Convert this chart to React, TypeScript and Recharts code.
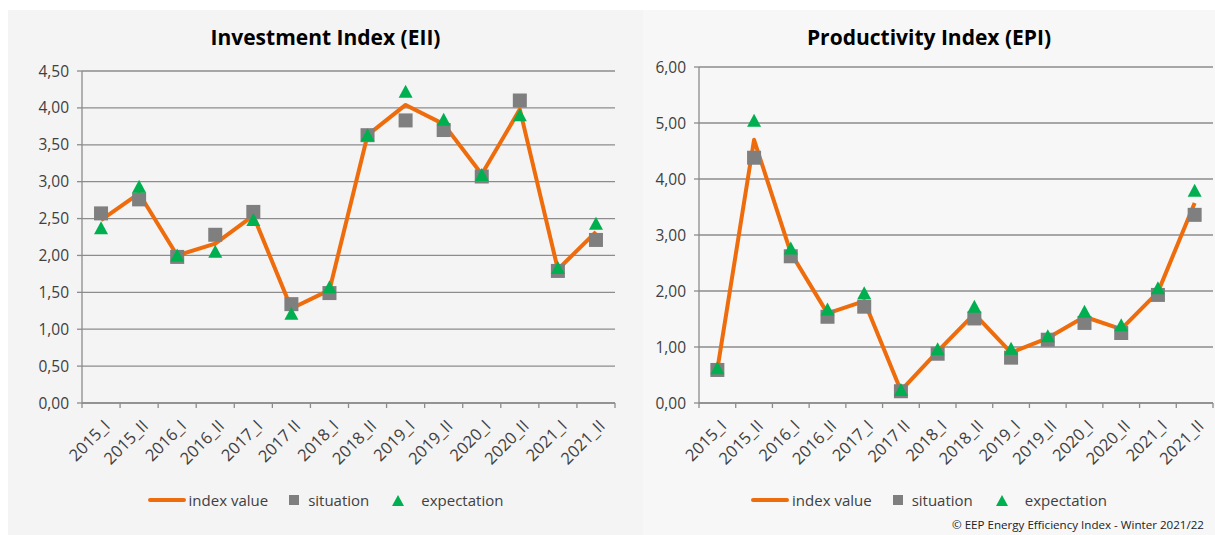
import { LineChart, Line, XAxis, YAxis, CartesianGrid } from 'recharts';

const categories = ['2015_I', '2015_II', '2016_I', '2016_II', '2017_I', '2017 II', '2018_I', '2018_II', '2019_I', '2019_II', '2020_I', '2020_II', '2021_I', '2021_II'];

// Investment Index (EII)
const eiiIndex = [2.48, 2.84, 2.0, 2.16, 2.54, 1.28, 1.53, 3.63, 4.04, 3.78, 3.1, 3.98, 1.81, 2.32];
const eiiSituation = [2.57, 2.76, 1.98, 2.28, 2.59, 1.34, 1.49, 3.63, 3.83, 3.7, 3.07, 4.1, 1.79, 2.21];
const eiiExpectation = [2.37, 2.93, 2.0, 2.05, 2.48, 1.21, 1.57, 3.63, 4.22, 3.84, 3.09, 3.9, 1.83, 2.43];
const eiiTicks = [0, 0.5, 1, 1.5, 2, 2.5, 3, 3.5, 4, 4.5];

// Productivity Index (EPI)
const epiIndex = [0.6, 4.7, 2.68, 1.6, 1.82, 0.22, 0.92, 1.59, 0.9, 1.16, 1.54, 1.32, 1.98, 3.57];
const epiSituation = [0.59, 4.38, 2.62, 1.54, 1.72, 0.21, 0.88, 1.51, 0.81, 1.13, 1.43, 1.25, 1.93, 3.36];
const epiExpectation = [0.62, 5.04, 2.76, 1.67, 1.96, 0.23, 0.96, 1.72, 0.97, 1.19, 1.63, 1.39, 2.05, 3.79];
const epiTicks = [0, 1, 2, 3, 4, 5, 6];

const ORANGE = '#ee6c0c';
const GREY = '#7f7f7f';
const GREEN = '#00b050';
const GRID = '#8c8c8c';
const FONT = '"Open Sans", "Noto Sans", sans-serif';

const fmt = (v: number) => v.toFixed(2).replace('.', ',');

function Square(props: any) {
  const { cx, cy } = props;
  if (cx == null || cy == null) return <g />;
  return <rect x={cx - 7} y={cy - 7} width={14} height={14} fill={GREY} />;
}

function Triangle(props: any) {
  const { cx, cy } = props;
  if (cx == null || cy == null) return <g />;
  return <polygon points={`${cx},${cy - 7} ${cx + 7},${cy + 6} ${cx - 7},${cy + 6}`} fill={GREEN} />;
}

function makeTick(band: number) {
  return function CategoryTick(props: any) {
    const { x, y, payload, index } = props;
    const ax = x + 6;
    const ay = y + 20;
    return (
      <g>
        <line x1={x - band / 2} x2={x - band / 2} y1={y} y2={y + 5} stroke={GRID} strokeWidth={1.3} />
        {index === categories.length - 1 && (
          <line x1={x + band / 2} x2={x + band / 2} y1={y} y2={y + 5} stroke={GRID} strokeWidth={1.3} />
        )}
        <text
          x={ax}
          y={ay}
          dy="0.35em"
          textAnchor="end"
          transform={`rotate(-45, ${ax}, ${ay})`}
          fontSize={16.5}
          fill="#404040"
          fontFamily={FONT}
        >
          {payload.value}
        </text>
      </g>
    );
  };
}

function Legend() {
  return (
    <div
      style={{
        position: 'absolute',
        left: 0,
        right: 0,
        top: 480,
        display: 'flex',
        justifyContent: 'center',
        alignItems: 'center',
        fontFamily: FONT,
        fontSize: 15,
        color: '#404040',
      }}
    >
      <span style={{ width: 38, height: 4, background: ORANGE, borderRadius: 2, marginRight: 3 }} />
      <span>index value</span>
      <span style={{ width: 10, height: 10, background: GREY, marginLeft: 21, marginRight: 9 }} />
      <span>situation</span>
      <svg width={12} height={11} style={{ marginLeft: 23, marginRight: 17 }}>
        <polygon points="6,0 12,11 0,11" fill={GREEN} />
      </svg>
      <span>expectation</span>
    </div>
  );
}

interface PanelProps {
  title: string;
  left: number;
  width: number;
  bg: string;
  ticks: number[];
  index: number[];
  situation: number[];
  expectation: number[];
  yWidth: number;
  marginTop: number;
  marginRight: number;
  children?: any;
}

function IndexPanel({ title, left, width, bg, ticks, index, situation, expectation, yWidth, marginTop, marginRight, children }: PanelProps) {
  const data = categories.map((c, i) => ({
    cat: c,
    index: index[i],
    situation: situation[i],
    expectation: expectation[i],
  }));
  const band = (width - yWidth - marginRight) / categories.length;

  return (
    <div style={{ position: 'absolute', left, top: 10, width, height: 525, background: bg }}>
      <div
        style={{
          position: 'absolute',
          top: 13,
          left: 0,
          right: 0,
          textAlign: 'center',
          fontFamily: FONT,
          fontWeight: 700,
          fontSize: 21,
          color: '#000',
        }}
      >
        {title}
      </div>
      <LineChart width={width} height={525} data={data} margin={{ top: marginTop, right: marginRight, left: 0, bottom: 72 }}>
        <CartesianGrid horizontal vertical={false} stroke={GRID} strokeWidth={1.3} />
        <XAxis
          dataKey="cat"
          interval={0}
          height={60}
          tickSize={0}
          tickMargin={0}
          padding={{ left: band / 2, right: band / 2 }}
          axisLine={{ stroke: GRID, strokeWidth: 1.3 }}
          tickLine={false}
          tick={makeTick(band)}
        />
        <YAxis
          width={yWidth}
          domain={[ticks[0], ticks[ticks.length - 1]]}
          ticks={ticks}
          tickFormatter={fmt}
          tickSize={5}
          tickMargin={8}
          axisLine={{ stroke: GRID, strokeWidth: 1.3 }}
          tickLine={{ stroke: GRID, strokeWidth: 1.3 }}
          tick={{ fontSize: 15.5, fill: '#404040', fontFamily: FONT }}
        />
        <Line
          dataKey="index"
          stroke={ORANGE}
          strokeWidth={4}
          strokeLinejoin="round"
          dot={false}
          activeDot={false}
          isAnimationActive={false}
        />
        <Line
          dataKey="situation"
          stroke="none"
          dot={(p: any) => <Square key={`s${p.index}`} {...p} />}
          activeDot={false}
          isAnimationActive={false}
        />
        <Line
          dataKey="expectation"
          stroke="none"
          dot={(p: any) => <Triangle key={`e${p.index}`} {...p} />}
          activeDot={false}
          isAnimationActive={false}
        />
      </LineChart>
      <Legend />
      {children}
    </div>
  );
}

export default function App() {
  return (
    <div style={{ position: 'absolute', left: 0, top: 0, width: 1215, height: 535, background: '#fff', overflow: 'hidden' }}>
      <IndexPanel
        title="Investment Index (EII)"
        left={8}
        width={635}
        bg="#f4f4f4"
        ticks={eiiTicks}
        index={eiiIndex}
        situation={eiiSituation}
        expectation={eiiExpectation}
        yWidth={74}
        marginTop={61}
        marginRight={28}
      />
      <IndexPanel
        title="Productivity Index (EPI)"
        left={643}
        width={572}
        bg="#f7f7f7"
        ticks={epiTicks}
        index={epiIndex}
        situation={epiSituation}
        expectation={epiExpectation}
        yWidth={56}
        marginTop={57}
        marginRight={2}
      >
        <div
          style={{
            position: 'absolute',
            right: 11,
            bottom: 3,
            fontFamily: FONT,
            fontSize: 11.6,
            color: '#222',
          }}
        >
          © EEP Energy Efficiency Index - Winter 2021/22
        </div>
      </IndexPanel>
    </div>
  );
}
